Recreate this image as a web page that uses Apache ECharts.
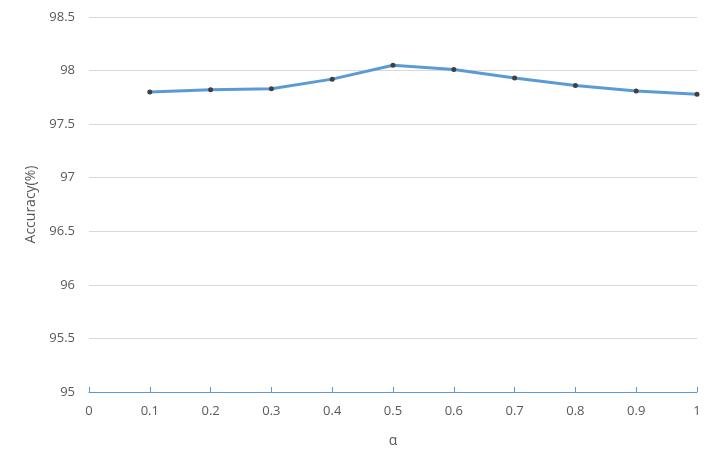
<!DOCTYPE html>
<html>
<head>
<meta charset="utf-8">
<script src="https://cdn.jsdelivr.net/npm/echarts@6/dist/echarts.min.js"></script>
<style>html,body{margin:0;padding:0;background:#fff}#c{width:717px;height:470px}</style>
</head>
<body>
<div id="c"></div>
<script>
var alphaValues = [0.1, 0.2, 0.3, 0.4, 0.5, 0.6, 0.7, 0.8, 0.9, 1.0];
var accuracy = [97.80, 97.82, 97.83, 97.92, 98.05, 98.01, 97.93, 97.86, 97.81, 97.78];
var xName = 'α';
var yName = 'Accuracy(%)';

var chart = echarts.init(document.getElementById('c'), null, {renderer: 'canvas'});
var font = '"Open Sans", "Noto Sans", sans-serif';
chart.setOption({
  animation: false,
  backgroundColor: '#ffffff',
  grid: {left: 89, right: 20, top: 17, bottom: 78, containLabel: false},
  xAxis: {
    type: 'value', min: 0, max: 1, interval: 0.1,
    name: xName, nameLocation: 'middle', nameGap: 42,
    nameTextStyle: {color: '#595959', fontSize: 14, fontFamily: font},
    axisLine: {show: true, lineStyle: {color: '#5B9BD5', width: 1}},
    axisTick: {show: true, inside: true, length: 5, lineStyle: {color: '#5B9BD5'}},
    axisLabel: {color: '#595959', fontSize: 13, fontFamily: font, margin: 13,
      formatter: function (v) { return String(Math.round(v * 10) / 10); }},
    splitLine: {show: false}
  },
  yAxis: {
    type: 'value', min: 95, max: 98.5, interval: 0.5,
    name: yName, nameLocation: 'middle', nameGap: 48,
    nameTextStyle: {color: '#595959', fontSize: 14, fontFamily: font},
    axisLine: {show: false},
    axisTick: {show: false},
    axisLabel: {color: '#595959', fontSize: 13, fontFamily: font, margin: 14},
    splitLine: {show: true, lineStyle: {color: '#d9d9d9', width: 1}}
  },
  series: [{
    type: 'line',
    data: alphaValues.map(function (a, i) { return [a, accuracy[i]]; }),
    lineStyle: {color: '#5B9BD5', width: 3},
    itemStyle: {color: '#404040'},
    symbol: 'circle', symbolSize: 5,
    showSymbol: true,
    z: 3
  }]
});
</script>
</body>
</html>
